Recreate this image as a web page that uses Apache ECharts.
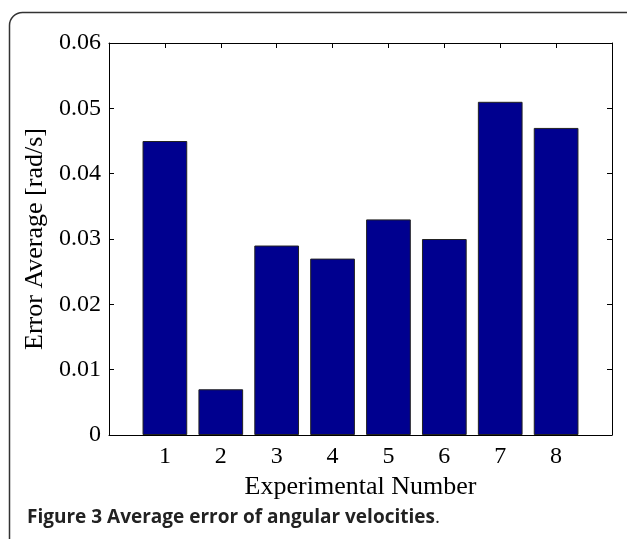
<!DOCTYPE html>
<html>
<head>
<meta charset="utf-8">
<script src="https://cdn.jsdelivr.net/npm/echarts@6/dist/echarts.min.js"></script>
<style>
html,body{margin:0;padding:0;background:#fff;}
#chart{width:627px;height:539px;}
</style>
</head>
<body>
<div id="chart"></div>
<script>
const categories = [1, 2, 3, 4, 5, 6, 7, 8];
const errorAverage = [0.045, 0.007, 0.029, 0.027, 0.033, 0.030, 0.051, 0.047];
const yTicks = [0, 0.01, 0.02, 0.03, 0.04, 0.05, 0.06];
const xTitle = 'Experimental Number';
const yTitle = 'Error Average [rad/s]';
const captionBold = 'Figure 3 Average error of angular velocities';
const captionTail = '.';

const serif = '"Liberation Serif", "DejaVu Serif", serif';
const chart = echarts.init(document.getElementById('chart'), null, {renderer: 'canvas'});

const barData = categories.map((c, i) => [c, errorAverage[i]]);
const axisLine = {show: true, onZero: false, lineStyle: {color: '#000', width: 1}};
const tick = {show: true, inside: true, length: 5, lineStyle: {color: '#000', width: 1}};

chart.setOption({
  animation: false,
  backgroundColor: '#fff',
  grid: {left: 109, top: 43, width: 503, height: 392, containLabel: false},
  xAxis: [{
    type: 'value', min: 0, max: 9, interval: 1, position: 'bottom',
    axisLine: axisLine, axisTick: tick, splitLine: {show: false},
    axisLabel: {
      margin: 10, color: '#000', fontFamily: serif, fontSize: 24,
      formatter: v => (categories.indexOf(v) >= 0 ? String(v) : '')
    },
    name: xTitle, nameLocation: 'middle', nameGap: 33,
    nameTextStyle: {color: '#000', fontFamily: serif, fontSize: 26}
  }, {
    type: 'value', min: 0, max: 9, interval: 1, position: 'top',
    axisLine: axisLine, axisTick: tick, splitLine: {show: false},
    axisLabel: {show: false}
  }],
  yAxis: [{
    type: 'value', min: 0, max: yTicks[yTicks.length - 1], interval: 0.01, position: 'left',
    axisLine: axisLine, axisTick: tick, splitLine: {show: false},
    axisLabel: {
      margin: 8, color: '#000', fontFamily: serif, fontSize: 24,
      formatter: v => (v === 0 ? '0' : v.toFixed(2))
    },
    name: yTitle, nameLocation: 'middle', nameGap: 54, nameRotate: 90,
    nameTextStyle: {color: '#000', fontFamily: serif, fontSize: 26}
  }, {
    type: 'value', min: 0, max: yTicks[yTicks.length - 1], interval: 0.01, position: 'right',
    axisLine: axisLine, axisTick: tick, splitLine: {show: false},
    axisLabel: {show: false}
  }],
  series: [{
    type: 'bar', xAxisIndex: 0, yAxisIndex: 0,
    data: barData, barWidth: '80%',
    itemStyle: {color: '#00008f', borderColor: '#222', borderWidth: 1}
  }],
  graphic: [
    {
      type: 'rect', silent: true,
      shape: {x: 9.5, y: 12.5, width: 660, height: 600, r: 13},
      style: {fill: 'none', stroke: '#333', lineWidth: 1.5}
    },
    {
      type: 'text', left: 27, top: 508,
      style: {
        text: '{b|' + captionBold + '}{n|' + captionTail + '}',
        rich: {
          b: {fontFamily: '"Open Sans", sans-serif', fontWeight: 'bold', fontSize: 19, fill: '#222'},
          n: {fontFamily: '"Open Sans", sans-serif', fontWeight: 'normal', fontSize: 19, fill: '#222'}
        }
      }
    }
  ]
});
</script>
</body>
</html>
